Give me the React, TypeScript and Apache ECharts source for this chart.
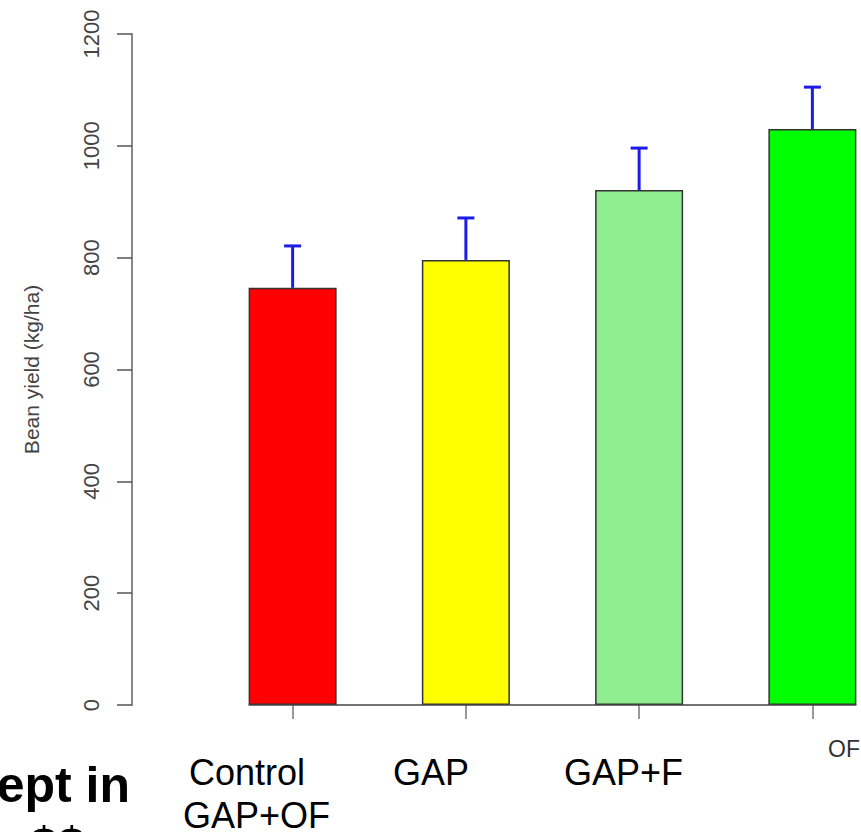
import React, { useEffect, useRef } from "react";
import * as echarts from "echarts";

const categories = ["Control", "GAP", "GAP+F", "GAP+OF"];
const yieldValues = [746, 796, 921, 1030];
const errorValues = [75, 75, 75, 75];
const barColors = ["#FF0000", "#FFFF00", "#90EE90", "#00FF00"];
const yMin = 0;
const yMax = 1200;
const yInterval = 200;
const yAxisTitle = "Bean yield (kg/ha)";

const BAR_FRACTION = 0.508;
const FONT = "'Liberation Sans', Arial, Helvetica, sans-serif";

export default function App() {
  const ref = useRef<HTMLDivElement>(null);

  useEffect(() => {
    if (!ref.current) return;
    const chart = echarts.init(ref.current, null, { renderer: "svg" });

    const option: any = {
      animation: false,
      backgroundColor: "#ffffff",
      grid: { left: 206, top: 34, width: 693, height: 671 },
      xAxis: {
        type: "category",
        data: categories,
        axisLine: { show: false },
        axisTick: {
          show: true,
          alignWithLabel: true,
          length: 14,
          lineStyle: { color: "#777", width: 1.5 },
        },
        axisLabel: { show: false },
        splitLine: { show: false },
      },
      yAxis: {
        type: "value",
        min: yMin,
        max: yMax,
        interval: yInterval,
        offset: 74,
        name: yAxisTitle,
        nameLocation: "middle",
        nameGap: 90,
        nameTextStyle: { fontSize: 21, color: "#444", fontFamily: FONT },
        axisLine: { show: true, lineStyle: { color: "#888", width: 2 } },
        axisTick: { show: true, length: 15, lineStyle: { color: "#555", width: 1.5 } },
        axisLabel: {
          rotate: 90,
          margin: 30,
          fontSize: 22,
          color: "#444",
          fontFamily: FONT,
          formatter: (v: number) => String(v),
        },
        splitLine: { show: false },
      },
      series: [
        {
          type: "bar",
          data: yieldValues.map((v, i) => ({
            value: v,
            itemStyle: { color: barColors[i] },
          })),
          barWidth: (BAR_FRACTION * 100).toFixed(1) + "%",
          itemStyle: { borderColor: "#333", borderWidth: 1.5 },
          z: 2,
        },
        {
          type: "custom",
          data: [[0, categories.length - 1]],
          encode: { x: 0, y: 1 },
          z: 3,
          renderItem: (params: any, api: any) => {
            const a = api.coord([api.value(0), 0]);
            const b = api.coord([api.value(1), 0]);
            const bw = api.size([1, 0])[0];
            const half = (bw * BAR_FRACTION) / 2;
            return {
              type: "line",
              shape: { x1: a[0] - half, y1: a[1], x2: b[0] + half, y2: b[1] },
              style: { stroke: "#444", lineWidth: 1.5 },
            };
          },
        },
        {
          type: "custom",
          data: yieldValues.map((v, i) => [i, v, errorValues[i]]),
          encode: { x: 0, y: 1 },
          z: 4,
          renderItem: (params: any, api: any) => {
            const i = api.value(0);
            const v = api.value(1);
            const e = api.value(2);
            const p0 = api.coord([i, v]);
            const p1 = api.coord([i, v + e]);
            const cap = 8.5;
            const st = { stroke: "#1c1ce8", lineWidth: 3 };
            return {
              type: "group",
              children: [
                {
                  type: "line",
                  shape: { x1: p0[0], y1: p0[1], x2: p1[0], y2: p1[1] },
                  style: st,
                },
                {
                  type: "line",
                  shape: { x1: p1[0] - cap, y1: p1[1], x2: p1[0] + cap, y2: p1[1] },
                  style: st,
                },
              ],
            };
          },
        },
      ],
      graphic: [
        {
          type: "text",
          x: 189,
          y: 772,
          style: { text: "Control", fontSize: 36, fill: "#000", fontFamily: FONT, align: "left", verticalAlign: "middle" },
        },
        {
          type: "text",
          x: 183,
          y: 815,
          style: { text: "GAP+OF", fontSize: 36, fill: "#000", fontFamily: FONT, align: "left", verticalAlign: "middle" },
        },
        {
          type: "text",
          x: 393,
          y: 772,
          style: { text: "GAP", fontSize: 36, fill: "#000", fontFamily: FONT, align: "left", verticalAlign: "middle" },
        },
        {
          type: "text",
          x: 564,
          y: 772,
          style: { text: "GAP+F", fontSize: 36, fill: "#000", fontFamily: FONT, align: "left", verticalAlign: "middle" },
        },
        {
          type: "text",
          x: 828,
          y: 749,
          style: { text: "OF", fontSize: 23, fill: "#333", fontFamily: FONT, align: "left", verticalAlign: "middle" },
        },
        {
          type: "text",
          x: 130,
          y: 785,
          style: { text: "ept in", fontSize: 50, fontWeight: "bold", fill: "#000", fontFamily: FONT, align: "right", verticalAlign: "middle" },
        },
        {
          type: "text",
          x: 30,
          y: 845,
          style: { text: "$$", fontSize: 50, fontWeight: "bold", fill: "#000", fontFamily: FONT, align: "left", verticalAlign: "middle" },
        },
      ],
    };

    chart.setOption(option);
    return () => chart.dispose();
  }, []);

  return (
    <div
      style={{
        position: "absolute",
        left: 0,
        top: 0,
        width: 861,
        height: 832,
        overflow: "hidden",
        background: "#fff",
      }}
    >
      <div ref={ref} style={{ width: 900, height: 832 }} />
    </div>
  );
}
